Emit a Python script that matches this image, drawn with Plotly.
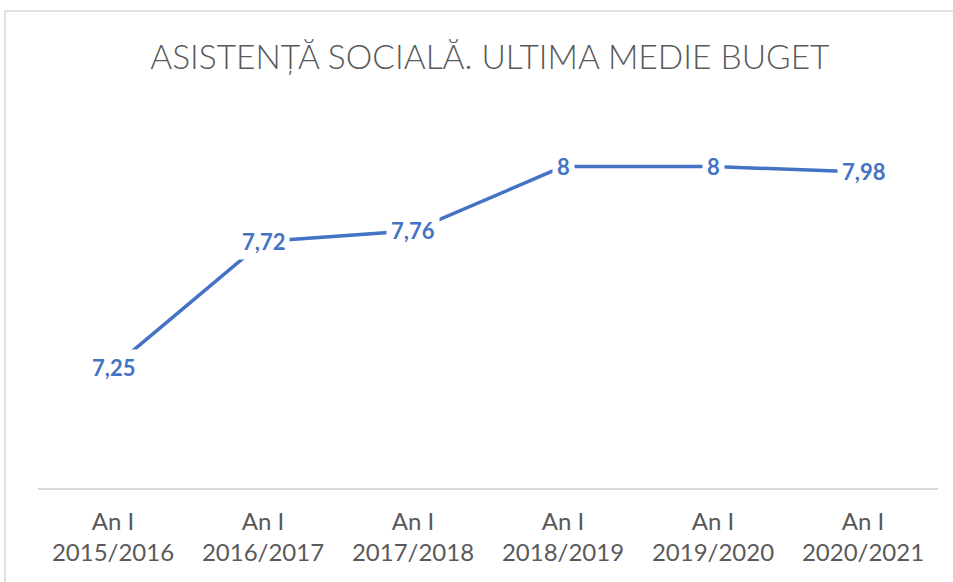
import plotly.graph_objects as go

years = ["2015/2016", "2016/2017", "2017/2018", "2018/2019", "2019/2020", "2020/2021"]
prefix = "An I"
values = [7.25, 7.72, 7.76, 8, 8, 7.98]
title_text = "ASISTENȚĂ SOCIALĂ. ULTIMA MEDIE BUGET"

categories = [f"{prefix}<br>{y}" for y in years]
labels = [f"{v:g}".replace(".", ",") for v in values]

BLUE = "#4472C4"
GREY = "#595959"

fig = go.Figure()
fig.add_trace(go.Scatter(
    x=categories, y=values, mode="lines",
    line=dict(color=BLUE, width=3.5),
    hoverinfo="skip", showlegend=False,
))

for c, v, t in zip(categories, values, labels):
    fig.add_annotation(
        x=c, y=v, xref="x", yref="y", text=f"<b>{t}</b>",
        showarrow=False, bgcolor="white", borderpad=4,
        font=dict(family="Lato", size=22, color=BLUE),
    )

fig.add_shape(
    type="rect", xref="paper", yref="paper",
    x0=-0.0367, x1=1.2, y0=-0.4, y1=1.272,
    line=dict(color="#D9D9D9", width=1.5), fillcolor="rgba(0,0,0,0)",
    layer="below",
)

fig.update_layout(
    width=953, height=582,
    margin=dict(l=38, r=15, t=113, b=94),
    paper_bgcolor="white", plot_bgcolor="white",
    title=dict(
        text=title_text, x=0.514, xanchor="center", y=1 - 57 / 582, yanchor="middle",
        font=dict(family="Lato", size=33.5, color=GREY, weight=300),
    ),
    xaxis=dict(
        type="category", range=[-0.5, 5.5],
        showgrid=False, zeroline=False,
        showline=True, linecolor="#D9D9D9", linewidth=1.5,
        ticks="", tickfont=dict(family="Lato", size=24, color=GREY),
        ticklabelstandoff=11,
        fixedrange=True,
    ),
    yaxis=dict(
        range=[6.8, 8.2], visible=False, showgrid=False, zeroline=False,
        fixedrange=True,
    ),
)

fig.write_html("out.html", config={"displayModeBar": False},
               post_script="document.body.style.margin='0';")
